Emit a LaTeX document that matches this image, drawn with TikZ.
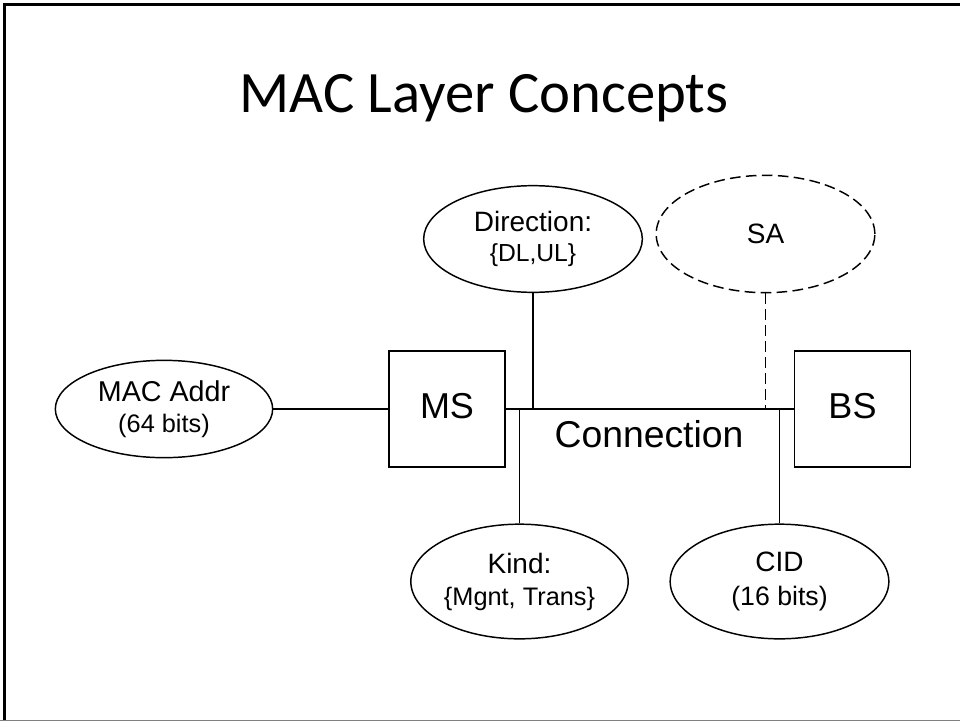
\documentclass[tikz,border=0pt]{standalone}
\usepackage{fontspec}
\setmainfont{Liberation Sans}
\newfontfamily\titlefont{Carlito}
\usetikzlibrary{shapes.geometric}
\newcommand{\boxlift}[1]{\raisebox{2.25pt}[\height][\depth]{#1}}
\begin{document}
\begin{tikzpicture}[x=0.75pt,y=-0.75pt,
  conline/.style={line width=1.1pt,black},
  oval/.style={ellipse,draw,line width=1.1pt,inner sep=0pt,align=center,
    minimum width=164pt},
  boxnode/.style={rectangle,draw,line width=1.1pt,minimum width=87pt,minimum height=87pt,
    inner sep=0pt,font=\fontsize{27}{30}\selectfont},
  dashline/.style={line width=1.1pt,dash pattern=on 8pt off 4pt}]
\useasboundingbox (0,0) rectangle (960,721);
% slide frame
\draw[line width=2pt] (4.7,721) -- (4.7,4.7) -- (960,4.7);
\draw[line width=1pt,gray] (0,720.2) -- (960,720.2);
% title
\node[anchor=base,font=\titlefont\fontsize{44}{50}\selectfont,inner sep=0pt] (title) at (484,112) {MAC Layer Concepts};
% boxes
\node[boxnode] (ms) at (447,409) {\boxlift{MS}};
\node[boxnode] (bs) at (852.5,409) {\boxlift{BS}};
% ellipses
\node[oval,minimum width=163pt,minimum height=73pt,font=\fontsize{19}{23}\selectfont] (mac) at (164,409)
  {{\fontsize{21.5}{24}\selectfont MAC Addr}\\(64 bits)};
\node[oval,minimum width=164pt,minimum height=80pt,font=\fontsize{18.5}{22}\selectfont] (dir) at (533,239)
  {{\fontsize{21}{24}\selectfont Direction:}\\\{DL,UL\}};
\node[oval,dashed,dash pattern=on 8pt off 4pt,minimum width=164pt,minimum height=88pt,
  font=\fontsize{21}{24}\selectfont] (sa) at (765.5,234) {SA};
\node[oval,minimum width=163pt,minimum height=86pt,font=\fontsize{19}{24}\selectfont] (kind) at (519.5,581.5)
  {{\fontsize{21}{24}\selectfont Kind:}\\\{Mgnt, Trans\}};
\node[oval,minimum width=164pt,minimum height=86pt,font=\fontsize{20}{25.5}\selectfont] (cid) at (779.5,581.5)
  {{\fontsize{21}{24}\selectfont CID}\\(16 bits)};
% connection label
\node[anchor=base,inner sep=0pt,font=\fontsize{28}{32}\selectfont] (conn) at (649,447) {Connection};
% connectors
\draw[conline] (mac.east) -- (ms.west);
\draw[conline] (ms.east) -- (bs.west);
\draw[conline] (dir.south) -- (dir.south |- ms.east);
\draw[dashline] (sa.south) -- (sa.south |- ms.east);
\draw[conline] (kind.north) -- (kind.north |- ms.east);
\draw[conline] (cid.north) -- (cid.north |- ms.east);
\end{tikzpicture}
\end{document}
